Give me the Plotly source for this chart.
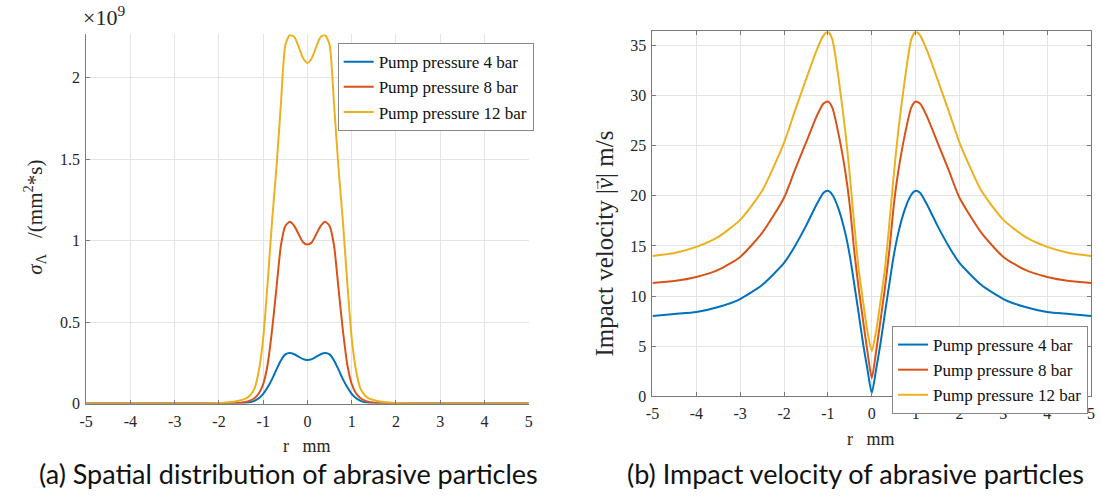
import plotly.graph_objects as go

# ---------------- data: (a) spatial distribution (x 1e9 particles/(mm^2*s)) ----------------
r_a = [-5, -4, -3, -2.5, -2, -1.8, -1.6, -1.4, -1.3, -1.2, -1.1, -1.0, -0.9, -0.8, -0.7, -0.6, -0.5,
       -0.4, -0.3, -0.2, -0.1, 0, 0.1, 0.2, 0.3, 0.4, 0.5, 0.6, 0.7, 0.8, 0.9, 1.0, 1.1, 1.2, 1.3,
       1.4, 1.6, 1.8, 2, 2.5, 3, 4, 5]
sigma_4bar = [0, 0, 0, 0, 0, 0.0005, 0.001, 0.004, 0.008, 0.017, 0.033, 0.06, 0.10, 0.15, 0.21,
              0.265, 0.302, 0.31, 0.303, 0.288, 0.273, 0.268, 0.273, 0.288, 0.303, 0.31, 0.302,
              0.265, 0.21, 0.15, 0.10, 0.06, 0.033, 0.017, 0.008, 0.004, 0.001, 0.0005, 0, 0, 0, 0, 0]
sigma_8bar = [0, 0, 0, 0, 0.001, 0.002, 0.004, 0.01, 0.018, 0.033, 0.062, 0.12, 0.24, 0.45, 0.71,
              0.97, 1.09, 1.115, 1.09, 1.04, 0.99, 0.976, 0.99, 1.04, 1.09, 1.115, 1.09, 0.97,
              0.71, 0.45, 0.24, 0.12, 0.062, 0.033, 0.018, 0.01, 0.004, 0.002, 0.001, 0, 0, 0, 0]
sigma_12bar = [0, 0, 0, 0.001, 0.004, 0.008, 0.015, 0.03, 0.05, 0.09, 0.2, 0.4, 0.74, 1.12, 1.45,
               1.84, 2.2, 2.26, 2.25, 2.19, 2.12, 2.09, 2.12, 2.19, 2.25, 2.26, 2.2, 1.84, 1.45,
               1.12, 0.74, 0.4, 0.2, 0.09, 0.05, 0.03, 0.015, 0.008, 0.004, 0.001, 0, 0, 0]

# ---------------- data: (b) impact velocity (m/s) ----------------
r_b = [-5, -4.5, -4, -3.5, -3, -2.5, -2, -1.75, -1.5, -1.25, -1.1, -1.0, -0.9, -0.75, -0.6, -0.5,
       -0.4, -0.3, -0.2, -0.1, 0, 0.1, 0.2, 0.3, 0.4, 0.5, 0.6, 0.75, 0.9, 1.0, 1.1, 1.25, 1.5,
       1.75, 2, 2.5, 3, 3.5, 4, 4.5, 5]
vel_4bar = [8.0, 8.2, 8.4, 8.9, 9.7, 11.1, 13.3, 15.0, 17.0, 19.2, 20.3, 20.5, 20.1, 18.6, 16.2,
            14.0, 11.2, 8.3, 5.3, 2.7, 0.3, 2.7, 5.3, 8.3, 11.2, 14.0, 16.2, 18.6, 20.1, 20.5,
            20.3, 19.2, 17.0, 15.0, 13.3, 11.1, 9.7, 8.9, 8.4, 8.2, 8.0]
vel_8bar = [11.3, 11.5, 11.9, 12.6, 13.9, 16.3, 19.8, 22.6, 25.3, 28.0, 29.2, 29.4, 28.8, 26.0,
            22.3, 19.0, 14.5, 10.8, 7.6, 4.5, 1.8, 4.5, 7.6, 10.8, 14.5, 19.0, 22.3, 26.0, 28.8,
            29.4, 29.2, 28.0, 25.3, 22.6, 19.8, 16.3, 13.9, 12.6, 11.9, 11.5, 11.3]
vel_12bar = [14.0, 14.3, 14.9, 15.9, 17.6, 20.5, 25.3, 28.5, 31.6, 34.6, 36.0, 36.4, 35.6, 31.5,
             26.3, 22.0, 17.2, 12.7, 9.5, 6.5, 4.5, 6.5, 9.5, 12.7, 17.2, 22.0, 26.3, 31.5, 35.6,
             36.4, 36.0, 34.6, 31.6, 28.5, 25.3, 20.5, 17.6, 15.9, 14.9, 14.3, 14.0]

series_names = ["Pump pressure 4 bar", "Pump pressure 8 bar", "Pump pressure 12 bar"]
colors = ["#0072BD", "#D95319", "#EDB120"]
x_ticks = [-5, -4, -3, -2, -1, 0, 1, 2, 3, 4, 5]
x_text = ["-5", "-4", "-3", "-2", "-1", "0", "1", "2", "3", "4", "5"]
ya_ticks = [0, 0.5, 1, 1.5, 2]
ya_text = ["0", "0.5", "1", "1.5", "2"]
yb_ticks = [0, 5, 10, 15, 20, 25, 30, 35]

W, H = 1101, 500
SERIF = "Liberation Serif, serif"
SANS = "Lato"
AX_COL = "#7a7a7a"
GRID = "#e4e4e4"
TXT = "#262626"

fig = go.Figure()
for name, ys, c in zip(series_names, [sigma_4bar, sigma_8bar, sigma_12bar], colors):
    fig.add_trace(go.Scatter(x=r_a, y=ys, mode="lines", name=name,
                             line=dict(color=c, width=2, shape="spline", smoothing=0.6),
                             xaxis="x", yaxis="y", legend="legend"))
for name, ys, c in zip(series_names, [vel_4bar, vel_8bar, vel_12bar], colors):
    fig.add_trace(go.Scatter(x=r_b, y=ys, mode="lines", name=name,
                             line=dict(color=c, width=2, shape="spline", smoothing=0.6),
                             xaxis="x2", yaxis="y2", legend="legend2"))


def px_x(p):
    return p / W


def px_y(p):
    return 1 - p / H


def ax_style():
    return dict(showgrid=True, gridcolor=GRID, gridwidth=1, zeroline=False,
                showline=True, linecolor=AX_COL, linewidth=1,
                ticks="inside", ticklen=4, tickcolor=AX_COL,
                tickfont=dict(family=SERIF, size=16, color=TXT))


def legend_style(xp, yp):
    return dict(x=px_x(xp), y=px_y(yp), xanchor="left", yanchor="top",
                bgcolor="white", bordercolor="#888888", borderwidth=1,
                font=dict(family=SERIF, size=17, color="#111"), tracegroupgap=0,
                itemwidth=30)


fig.update_layout(
    width=W, height=H, margin=dict(l=0, r=0, t=0, b=0),
    font=dict(family=SERIF, size=16, color=TXT),
    paper_bgcolor="white", plot_bgcolor="white",
    xaxis=dict(domain=[px_x(80), px_x(527)], range=[-5, 5], tickvals=x_ticks, ticktext=x_text,
               anchor="y", ticklabelstandoff=3, **ax_style()),
    yaxis=dict(domain=[px_y(411), px_y(35)], range=[0, 2.265], tickvals=ya_ticks,
               ticktext=ya_text, anchor="x", ticklabelstandoff=2, **ax_style()),
    xaxis2=dict(domain=[px_x(652), px_x(1095)], range=[-5, 5], tickvals=x_ticks, ticktext=x_text,
                anchor="y2", mirror="ticks", ticklabelstandoff=3, **ax_style()),
    yaxis2=dict(domain=[px_y(403.5), px_y(32)], range=[0, 36.4], tickvals=yb_ticks,
                anchor="x2", mirror="ticks", ticklabelstandoff=2, **ax_style()),
    legend=legend_style(334, 44),
    legend2=legend_style(894, 332),
    showlegend=True,
)

ann = []
# x10^9 multiplier
ann.append(dict(x=px_x(75), y=px_y(33), xref="paper", yref="paper", xanchor="left",
                yanchor="bottom", showarrow=False, text="×10<sup>9</sup>",
                font=dict(family=SERIF, size=22, color=TXT)))
# y labels
ann.append(dict(x=px_x(27), y=px_y(221), xref="paper", yref="paper", xanchor="center",
                yanchor="middle", showarrow=False, textangle=-90,
                text="<i>σ</i><sub>Λ</sub>&nbsp;&nbsp;&nbsp;/(mm<sup>2</sup>*s)",
                font=dict(family=SERIF, size=21, color=TXT)))
YL_FS = 25
ann.append(dict(x=px_x(604), y=px_y(248), xref="paper", yref="paper", xanchor="center",
                yanchor="middle", showarrow=False, textangle=-90,
                text="Impact velocity |<i>v</i>| m/s",
                font=dict(family=SERIF, size=YL_FS, color=TXT)))
# vector arrow over the v of the label
ann.append(dict(x=px_x(595), y=px_y(188), xref="paper", yref="paper", xanchor="center",
                yanchor="middle", showarrow=False, textangle=-90, text="→",
                font=dict(family=SERIF, size=14, color=TXT)))
# x labels
ann.append(dict(x=px_x(303), y=px_y(454), xref="paper", yref="paper", xanchor="center",
                yanchor="middle", showarrow=False, text="r&nbsp;&nbsp;&nbsp;mm",
                font=dict(family=SERIF, size=18, color=TXT)))
ann.append(dict(x=px_x(873), y=px_y(447), xref="paper", yref="paper", xanchor="center",
                yanchor="middle", showarrow=False, text="r&nbsp;&nbsp;&nbsp;mm",
                font=dict(family=SERIF, size=18, color=TXT)))
# captions
ann.append(dict(x=px_x(284), y=px_y(482), xref="paper", yref="paper", xanchor="center",
                yanchor="middle", showarrow=False,
                text="(a) Spatial distribution of abrasive particles",
                font=dict(family=SANS, size=27, color="#111")))
ann.append(dict(x=px_x(857), y=px_y(482), xref="paper", yref="paper", xanchor="center",
                yanchor="middle", showarrow=False,
                text="(b) Impact velocity of abrasive particles",
                font=dict(family=SANS, size=27, color="#111")))
fig.update_layout(annotations=ann)

fig.write_html("out.html")
